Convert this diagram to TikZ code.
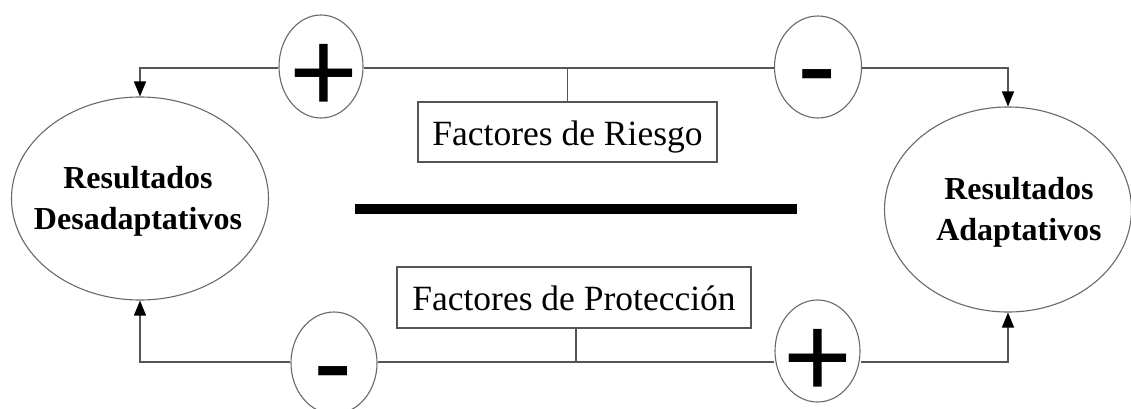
\documentclass[tikz,border=0pt]{standalone}
\usepackage{fontspec}
\setmainfont{Liberation Serif}
\newfontfamily\signfont{Liberation Sans}
\usetikzlibrary{shapes.geometric,arrows.meta}
\definecolor{linegray}{RGB}{85,85,85}
\definecolor{ovalgray}{RGB}{105,105,105}
\tikzset{
  conn/.style={draw=linegray, line width=1.3pt},
  arr/.style={conn, -{Triangle[length=15pt,width=12pt,color=black]}},
  oval/.style={ellipse, draw=ovalgray, line width=1.1pt, fill=white, inner sep=0pt},
  factbox/.style={rectangle, draw=linegray, line width=1.3pt, fill=white, inner sep=0pt,
    font=\fontsize{35.5}{40}\selectfont},
  restext/.style={align=center, inner sep=0pt, font=\bfseries\fontsize{32}{41}\selectfont},
  sign/.style={inner sep=0pt, anchor=base, font=\signfont\fontsize{118}{118}\selectfont},
}
\begin{document}
\begin{tikzpicture}[x=1pt,y=-1pt]
\useasboundingbox (0,0) rectangle (1131,409);
\fill[white] (0,0) rectangle (1131,409);

% outcome ellipses
\node[oval, minimum width=257pt, minimum height=203pt] (dis) at (140,198.5) {};
\node[restext] (distext) at (138,201.6) {Resultados\\Desadaptativos};
\node[oval, minimum width=247pt, minimum height=205pt] (adap) at (1008,209.5) {};
\node[restext] (adaptext) at (1019,212.6) {Resultados\\Adaptativos};

% factor boxes
\node[factbox, minimum width=299pt, minimum height=60pt, text height=30pt, text depth=4pt] (rie) at (567.5,132) {Factores de Riesgo};
\node[factbox, minimum width=354pt, minimum height=61pt, text height=29pt, text depth=4pt] (pro) at (574,297.5) {Factores de Protección};

% sign circles
\node[oval, minimum width=84pt, minimum height=103pt] (tplus) at (321,66.5) {};
\node[oval, minimum width=87pt, minimum height=102pt] (tminus) at (818,67) {};
\node[oval, minimum width=86pt, minimum height=102pt] (bminus) at (334,363) {};
\node[oval, minimum width=85pt, minimum height=102pt] (bplus) at (817.5,351) {};

\node[sign] (tplussign) at (323.5,113) {+};
\node[sign] (tminussign) at (817,106) {-};
\node[sign] (bminussign) at (333,402) {-};
\node[sign] (bplussign) at (818,397) {+};

% thick separator
\coordinate (sepL) at (355,209);
\coordinate (sepR) at (797,209);
\draw[line width=10pt] (sepL) -- (sepR);

% connectors
\coordinate (jt) at (567.5,68);
\coordinate (jb) at (576,362);
\draw[conn] (rie.north) -- (jt);
\draw[conn] (jt) -- (tplus.east |- jt);
\draw[arr] (tplus.west |- jt) -| (dis.north);
\draw[conn] (jt) -- (tminus.west |- jt);
\draw[arr] (tminus.east |- jt) -| (adap.north);

\draw[conn] (jb |- pro.south) -- (jb);
\draw[conn] (jb) -- (bminus.east |- jb);
\draw[arr] (bminus.west |- jb) -| (dis.south);
\draw[conn] (jb) -- (bplus.west |- jb);
\draw[arr] (bplus.east |- jb) -| (adap.south);
\end{tikzpicture}
\end{document}
